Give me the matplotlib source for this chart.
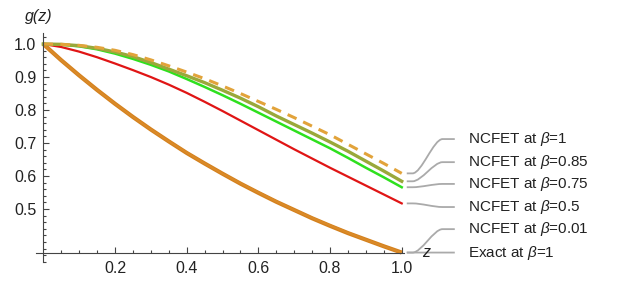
"""Curves g(z) for NCFET at several beta values, with callout labels."""

import matplotlib.pyplot as plt
from matplotlib.path import Path
from matplotlib.patches import PathPatch
from matplotlib.ticker import MultipleLocator, FixedLocator

plt.rcParams["font.family"] = ["Liberation Sans", "DejaVu Sans"]
plt.rcParams["mathtext.fontset"] = "custom"
plt.rcParams["mathtext.it"] = "Liberation Sans:italic"
plt.rcParams["mathtext.rm"] = "Liberation Sans"

# z grid (step 0.05) and values
z = [0.00, 0.05, 0.10, 0.15, 0.20, 0.25, 0.30, 0.35, 0.40, 0.45, 0.50,
     0.55, 0.60, 0.65, 0.70, 0.75, 0.80, 0.85, 0.90, 0.95, 1.00]

g_exact = [1.000, 0.951, 0.905, 0.861, 0.819, 0.779, 0.741, 0.705, 0.670, 0.638, 0.607,
           0.577, 0.549, 0.522, 0.497, 0.472, 0.449, 0.427, 0.407, 0.387, 0.368]
g_b001 = [1.000, 0.951, 0.905, 0.861, 0.819, 0.779, 0.741, 0.705, 0.671, 0.638, 0.607,
          0.578, 0.550, 0.523, 0.497, 0.473, 0.450, 0.428, 0.407, 0.387, 0.368]
g_b05 = [1.000, 0.991, 0.977, 0.960, 0.941, 0.921, 0.900, 0.877, 0.852, 0.825, 0.797,
         0.768, 0.739, 0.710, 0.681, 0.653, 0.625, 0.598, 0.571, 0.544, 0.517]
g_b075 = [1.000, 0.998, 0.993, 0.984, 0.971, 0.955, 0.937, 0.917, 0.894, 0.870, 0.845,
          0.819, 0.792, 0.765, 0.738, 0.711, 0.684, 0.655, 0.625, 0.596, 0.566]
g_b085 = [1.000, 0.999, 0.995, 0.987, 0.976, 0.962, 0.944, 0.924, 0.904, 0.883, 0.860,
          0.836, 0.810, 0.782, 0.756, 0.730, 0.703, 0.675, 0.645, 0.615, 0.584]
g_b1 = [1.000, 0.999, 0.996, 0.990, 0.981, 0.968, 0.952, 0.934, 0.915, 0.895, 0.873,
        0.850, 0.826, 0.802, 0.777, 0.751, 0.725, 0.696, 0.667, 0.638, 0.608]

labels = ["NCFET at $\\beta$=1", "NCFET at $\\beta$=0.85", "NCFET at $\\beta$=0.75",
          "NCFET at $\\beta$=0.5", "NCFET at $\\beta$=0.01", "Exact at $\\beta$=1"]
series = [g_b1, g_b085, g_b075, g_b05, g_b001, g_exact]

# where each callout label sits (in g units)
label_y = [0.712, 0.642, 0.576, 0.506, 0.439, 0.368]

fig = plt.figure(figsize=(6.39, 2.83), dpi=100)
ax = fig.add_axes([0.0565, 0.0749, 0.575, 0.808])

ax.plot(z, g_exact, color="#D4801C", lw=3.0, solid_capstyle="butt")
ax.plot(z, g_b001, color="#DA8A28", lw=1.6, solid_capstyle="butt")
ax.plot(z, g_b05, color="#E01515", lw=1.6)
ax.plot(z, g_b075, color="#2EE01E", lw=1.8)
ax.plot(z, g_b085, color="#9AA83A", lw=2.4)
ax.plot(z, g_b1, color="#E2A33A", lw=2.2, dashes=(3.2, 2.4))

ax.set_xlim(-0.02, 1.005)
ax.set_ylim(0.34, 1.033)

# Mathematica-style axes crossing at (0, e^-1)
for side in ("top", "right"):
    ax.spines[side].set_visible(False)
ax.spines["left"].set_position(("data", 0))
ax.spines["bottom"].set_position(("data", g_exact[-1]))
for side in ("left", "bottom"):
    ax.spines[side].set_color("#444444")
    ax.spines[side].set_linewidth(0.8)

ax.xaxis.set_major_locator(FixedLocator([0.2, 0.4, 0.6, 0.8, 1.0]))
ax.xaxis.set_minor_locator(FixedLocator([0.05, 0.1, 0.15, 0.25, 0.3, 0.35, 0.45, 0.5, 0.55,
                                         0.65, 0.7, 0.75, 0.85, 0.9, 0.95]))
ax.yaxis.set_major_locator(FixedLocator([0.5, 0.6, 0.7, 0.8, 0.9, 1.0]))
ax.yaxis.set_minor_locator(MultipleLocator(0.02))
ax.set_xticklabels(["0.2", "0.4", "0.6", "0.8", "1.0"])
ax.set_yticklabels(["0.5", "0.6", "0.7", "0.8", "0.9", "1.0"])
ax.tick_params(which="both", direction="in", color="#444444", width=0.8,
               labelsize=11.5, labelcolor="#222222")
ax.tick_params(which="major", length=4)
ax.tick_params(which="minor", length=2.2)
ax.tick_params(axis="y", pad=5)
ax.tick_params(axis="x", pad=6)

ax.text(-0.012, 1.083, "g(z)", style="italic", fontsize=11.5, ha="center", va="center",
        color="#222222", clip_on=False)
ax.text(1.068, g_exact[-1], "z", style="italic", fontsize=11.5, ha="center", va="center",
        color="#222222", clip_on=False)

# callout leader lines and labels: short stub, smooth diagonal, horizontal run
for vals, text, ly in zip(series, labels, label_y):
    y0 = vals[-1]
    x0, x1, x2, x3 = 1.014, 1.030, 1.114, 1.148
    d = x2 - x1
    verts = [(x0, y0), (x1, y0), (x1 + 0.3 * d, y0), (x2 - 0.3 * d, ly), (x2, ly), (x3, ly)]
    codes = [Path.MOVETO, Path.LINETO, Path.CURVE4, Path.CURVE4, Path.CURVE4, Path.LINETO]
    ax.add_patch(PathPatch(Path(verts, codes), fill=False, edgecolor="#AAAAAA", lw=1.3,
                           clip_on=False))
    ax.text(1.184, ly, text, fontsize=11, ha="left", va="center", color="#222222",
            clip_on=False)

fig.savefig("out.png", dpi=100)
